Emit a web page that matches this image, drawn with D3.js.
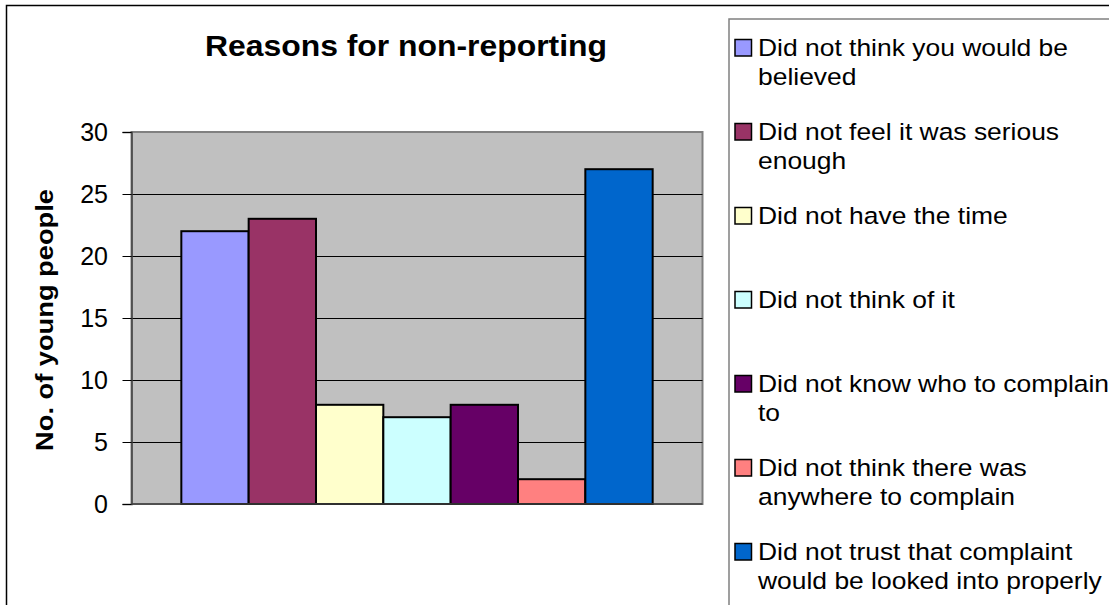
<!DOCTYPE html>
<html>
<head>
<meta charset="utf-8">
<script src="https://cdn.jsdelivr.net/npm/d3@7"></script>
<style>
html,body{margin:0;padding:0;background:#fff;overflow:hidden;}
svg{display:block;font-family:"Liberation Sans",Arial,sans-serif;}
</style>
</head>
<body>
<svg id="chart" width="1109" height="605"></svg>
<script>
const categories = [
  "Did not think you would be believed",
  "Did not feel it was serious enough",
  "Did not have the time",
  "Did not think of it",
  "Did not know who to complain to",
  "Did not think there was anywhere to complain",
  "Did not trust that complaint would be looked into properly"
];
const legendLines = [
  ["Did not think you would be", "believed"],
  ["Did not feel it was serious", "enough"],
  ["Did not have the time"],
  ["Did not think of it"],
  ["Did not know who to complain", "to"],
  ["Did not think there was", "anywhere to complain"],
  ["Did not trust that complaint", "would be looked into properly"]
];
const values = [22, 23, 8, 7, 8, 2, 27];
const colors = ["#9999FF", "#993366", "#FFFFCC", "#CCFFFF", "#660066", "#FF8080", "#0066CC"];
const yTicks = [0, 5, 10, 15, 20, 25, 30];
const title = "Reasons for non-reporting";
const yLabel = "No. of young people";

const svg = d3.select("#chart");

// outer chart border
svg.append("rect").attr("x", 6.5).attr("y", 5.5).attr("width", 1200).attr("height", 700)
  .attr("fill", "#fff").attr("stroke", "#000").attr("stroke-width", 1.5);

const plot = {left: 131.5, right: 702.5, top: 132, bottom: 504};

const y = d3.scaleLinear().domain([0, 30]).range([plot.bottom, plot.top]);
const x = d3.scaleBand().domain(categories).range([plot.left, plot.right])
  .paddingInner(0).paddingOuter(0.74);

// plot area
svg.append("rect").attr("x", plot.left).attr("y", plot.top)
  .attr("width", plot.right - plot.left).attr("height", plot.bottom - plot.top)
  .attr("fill", "#C0C0C0").attr("stroke", "#808080").attr("stroke-width", 2);

// gridlines
svg.append("g").selectAll("line").data(yTicks.filter(d => d > 0 && d < 30)).join("line")
  .attr("x1", plot.left).attr("x2", plot.right)
  .attr("y1", d => Math.round(y(d)) + 0.5).attr("y2", d => Math.round(y(d)) + 0.5)
  .attr("stroke", "#000").attr("stroke-width", 1);

// bars
svg.append("g").selectAll("rect").data(values).join("rect")
  .attr("x", (d, i) => x(categories[i]))
  .attr("y", d => y(d))
  .attr("width", x.bandwidth())
  .attr("height", d => y(0) - y(d))
  .attr("fill", (d, i) => colors[i])
  .attr("stroke", "#000").attr("stroke-width", 2);

// y axis
const yAxis = d3.axisLeft(y).tickValues(yTicks).tickSize(9).tickPadding(14.5);
const ga = svg.append("g").attr("transform", `translate(${plot.left},0)`).call(yAxis);
ga.select(".domain").attr("stroke", "#404040").attr("stroke-width", 1.5);
ga.selectAll(".tick line").attr("stroke", "#000");
ga.selectAll(".tick text").attr("font-size", 25).attr("fill", "#000")
  .attr("font-family", "Liberation Sans, Arial, sans-serif");

// bottom axis line
svg.append("line").attr("x1", plot.left).attr("x2", plot.right)
  .attr("y1", plot.bottom).attr("y2", plot.bottom)
  .attr("stroke", "#404040").attr("stroke-width", 1.5);

// title
svg.append("text").attr("transform", "translate(406,56) scale(1.1,1)")
  .attr("text-anchor", "middle")
  .attr("font-size", 29).attr("font-weight", "bold").text(title);

// y label
svg.append("text").attr("transform", "translate(53,320) rotate(-90) scale(1.16,1)")
  .attr("text-anchor", "middle").attr("font-size", 23.5).attr("font-weight", "bold").text(yLabel);

// legend box
svg.append("rect").attr("x", 729).attr("y", 19).attr("width", 500).attr("height", 700)
  .attr("fill", "#fff").attr("stroke", "#808080").attr("stroke-width", 1.5);

const lg = svg.append("g").selectAll("g").data(legendLines).join("g")
  .attr("transform", (d, i) => `translate(0,${56 + 84 * i})`);
lg.append("rect").attr("x", 735).attr("y", -16.5).attr("width", 16.5).attr("height", 16.5)
  .attr("fill", (d, i) => colors[i]).attr("stroke", "#000").attr("stroke-width", 1.5);
lg.append("text").attr("transform", "translate(758,0) scale(1.125,1)").attr("font-size", 23.5)
  .selectAll("tspan").data(d => d).join("tspan")
  .attr("x", 0).attr("y", (d, j) => j * 29.5).text(d => d);
</script>
</body>
</html>
